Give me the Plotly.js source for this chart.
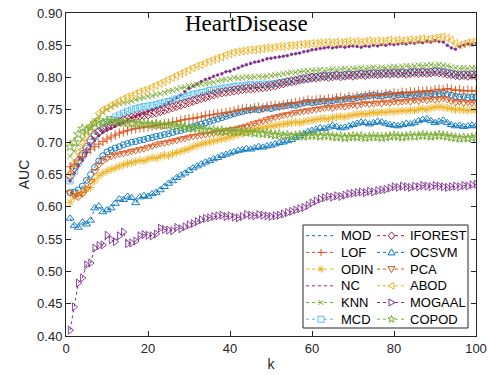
<!DOCTYPE html>
<html>
<head>
<meta charset="utf-8">
<script src="https://cdn.plot.ly/plotly-3.0.1.min.js"></script>
<style>html,body{margin:0;padding:0;background:#fff;}#chart{width:488px;height:375px;}</style>
</head>
<body>
<div id="chart"></div>
<script>
const k = Array.from({length: 100}, (_, i) => i + 1);
const seriesNames = ['MOD','LOF','ODIN','NC','KNN','MCD','IFOREST','OCSVM','PCA','ABOD','MOGAAL','COPOD'];

const MOD = [0.622,0.623,0.626,0.632,0.641,0.650,0.661,0.671,0.679,0.685,
0.688,0.691,0.693,0.696,0.698,0.700,0.701,0.703,0.704,0.706,
0.707,0.709,0.710,0.712,0.713,0.715,0.717,0.718,0.720,0.722,
0.724,0.726,0.728,0.730,0.732,0.734,0.736,0.738,0.740,0.742,
0.744,0.746,0.747,0.749,0.750,0.751,0.750,0.752,0.753,0.752,
0.754,0.755,0.756,0.757,0.758,0.757,0.759,0.761,0.762,0.761,
0.762,0.763,0.764,0.763,0.764,0.766,0.765,0.767,0.768,0.767,
0.769,0.770,0.771,0.772,0.773,0.772,0.771,0.773,0.774,0.772,
0.773,0.774,0.773,0.772,0.773,0.775,0.774,0.776,0.775,0.774,
0.775,0.776,0.774,0.773,0.771,0.770,0.771,0.769,0.770,0.770];

const LOF = [0.662,0.666,0.672,0.678,0.684,0.689,0.693,0.697,0.701,0.705,
0.708,0.711,0.714,0.716,0.718,0.720,0.721,0.722,0.723,0.724,
0.725,0.726,0.727,0.728,0.729,0.731,0.732,0.734,0.735,0.736,
0.737,0.738,0.739,0.741,0.742,0.743,0.744,0.745,0.746,0.747,
0.748,0.750,0.751,0.752,0.751,0.753,0.754,0.753,0.755,0.756,
0.757,0.756,0.758,0.759,0.760,0.761,0.762,0.763,0.765,0.764,
0.765,0.766,0.765,0.767,0.766,0.768,0.769,0.768,0.770,0.769,
0.771,0.770,0.772,0.773,0.772,0.774,0.773,0.775,0.774,0.776,
0.775,0.777,0.776,0.778,0.777,0.779,0.778,0.780,0.779,0.781,
0.782,0.781,0.783,0.782,0.780,0.781,0.779,0.780,0.779,0.780];

const ODIN = [0.607,0.615,0.620,0.622,0.627,0.630,0.640,0.648,0.652,0.655,
0.658,0.660,0.663,0.665,0.667,0.668,0.670,0.672,0.671,0.674,
0.676,0.675,0.678,0.680,0.679,0.682,0.684,0.686,0.688,0.690,
0.693,0.695,0.697,0.699,0.700,0.702,0.703,0.705,0.706,0.708,
0.710,0.712,0.714,0.716,0.718,0.720,0.721,0.722,0.724,0.725,
0.726,0.727,0.728,0.729,0.730,0.731,0.730,0.732,0.733,0.734,
0.735,0.736,0.737,0.736,0.738,0.739,0.740,0.739,0.741,0.742,
0.743,0.744,0.743,0.745,0.746,0.745,0.747,0.746,0.748,0.747,
0.748,0.749,0.748,0.750,0.749,0.751,0.752,0.751,0.753,0.754,
0.755,0.754,0.753,0.752,0.750,0.751,0.750,0.749,0.750,0.750];

const NC = [0.640,0.652,0.663,0.672,0.684,0.695,0.703,0.710,0.716,0.720,
0.722,0.725,0.728,0.731,0.735,0.738,0.740,0.743,0.745,0.748,
0.750,0.753,0.755,0.758,0.761,0.765,0.769,0.773,0.778,0.783,
0.787,0.790,0.794,0.797,0.799,0.802,0.804,0.806,0.809,0.810,
0.813,0.815,0.818,0.820,0.822,0.824,0.825,0.827,0.829,0.830,
0.831,0.832,0.833,0.834,0.836,0.837,0.838,0.840,0.841,0.843,
0.844,0.845,0.846,0.847,0.846,0.847,0.848,0.847,0.848,0.849,
0.848,0.847,0.849,0.848,0.850,0.849,0.851,0.850,0.852,0.851,
0.852,0.853,0.852,0.854,0.853,0.855,0.854,0.856,0.855,0.857,
0.856,0.855,0.850,0.846,0.844,0.848,0.850,0.852,0.851,0.853];

const KNN = [0.678,0.686,0.696,0.705,0.715,0.724,0.733,0.740,0.746,0.751,
0.755,0.758,0.760,0.761,0.762,0.764,0.766,0.768,0.769,0.771,
0.772,0.774,0.775,0.777,0.779,0.780,0.782,0.784,0.785,0.787,
0.788,0.789,0.790,0.791,0.792,0.793,0.795,0.796,0.797,0.798,
0.800,0.799,0.800,0.801,0.800,0.801,0.802,0.801,0.802,0.803,
0.804,0.805,0.806,0.807,0.808,0.808,0.809,0.810,0.810,0.811,
0.811,0.812,0.811,0.812,0.813,0.812,0.813,0.814,0.813,0.814,
0.814,0.815,0.814,0.815,0.816,0.815,0.816,0.815,0.816,0.817,
0.816,0.817,0.818,0.817,0.818,0.819,0.818,0.819,0.820,0.819,
0.820,0.819,0.818,0.816,0.815,0.814,0.815,0.814,0.815,0.815];

const MCD = [0.640,0.655,0.668,0.679,0.690,0.700,0.709,0.717,0.724,0.730,
0.735,0.739,0.742,0.745,0.748,0.750,0.752,0.754,0.755,0.756,
0.757,0.758,0.760,0.762,0.763,0.765,0.767,0.769,0.770,0.772,
0.774,0.775,0.777,0.778,0.780,0.781,0.782,0.783,0.784,0.785,
0.786,0.787,0.787,0.788,0.789,0.788,0.789,0.790,0.789,0.790,
0.791,0.792,0.793,0.794,0.795,0.796,0.797,0.798,0.799,0.800,
0.801,0.802,0.802,0.803,0.803,0.804,0.803,0.804,0.805,0.804,
0.805,0.806,0.805,0.806,0.807,0.806,0.807,0.806,0.807,0.808,
0.807,0.808,0.807,0.808,0.809,0.808,0.809,0.808,0.809,0.810,
0.810,0.809,0.808,0.806,0.805,0.804,0.805,0.804,0.805,0.805];

const IFOREST = [0.648,0.660,0.671,0.681,0.692,0.703,0.712,0.716,0.720,0.723,
0.726,0.729,0.732,0.734,0.736,0.738,0.739,0.741,0.742,0.743,
0.745,0.746,0.748,0.750,0.752,0.754,0.756,0.758,0.760,0.762,
0.764,0.766,0.768,0.770,0.772,0.774,0.776,0.777,0.778,0.779,
0.780,0.781,0.782,0.783,0.783,0.784,0.785,0.785,0.786,0.787,
0.788,0.790,0.791,0.793,0.794,0.795,0.797,0.798,0.799,0.800,
0.800,0.801,0.802,0.801,0.802,0.803,0.802,0.803,0.804,0.803,
0.804,0.805,0.804,0.805,0.806,0.805,0.806,0.807,0.806,0.807,
0.806,0.807,0.806,0.807,0.808,0.807,0.808,0.807,0.808,0.809,
0.808,0.807,0.806,0.805,0.804,0.803,0.804,0.803,0.804,0.803];

const OCSVM = [0.582,0.571,0.568,0.576,0.573,0.579,0.598,0.601,0.592,0.595,
0.598,0.605,0.612,0.611,0.616,0.614,0.606,0.615,0.617,0.616,
0.620,0.622,0.626,0.631,0.636,0.640,0.645,0.649,0.652,0.656,
0.660,0.663,0.666,0.669,0.671,0.674,0.676,0.679,0.681,0.683,
0.685,0.687,0.688,0.690,0.689,0.691,0.693,0.692,0.694,0.695,
0.697,0.699,0.700,0.702,0.704,0.707,0.710,0.713,0.716,0.718,
0.720,0.722,0.721,0.723,0.726,0.724,0.722,0.723,0.725,0.727,
0.729,0.731,0.730,0.728,0.730,0.732,0.731,0.729,0.727,0.726,
0.725,0.727,0.729,0.728,0.730,0.733,0.735,0.736,0.733,0.730,
0.732,0.734,0.730,0.727,0.725,0.726,0.724,0.725,0.726,0.725];

const PCA = [0.622,0.618,0.615,0.620,0.628,0.640,0.655,0.665,0.671,0.675,
0.678,0.680,0.682,0.683,0.684,0.686,0.687,0.689,0.690,0.692,
0.694,0.696,0.698,0.699,0.700,0.702,0.703,0.705,0.706,0.708,
0.709,0.710,0.711,0.712,0.713,0.714,0.715,0.716,0.718,0.719,
0.720,0.722,0.723,0.725,0.727,0.729,0.731,0.733,0.735,0.737,
0.739,0.740,0.742,0.743,0.744,0.746,0.747,0.748,0.749,0.750,
0.751,0.752,0.753,0.754,0.753,0.755,0.756,0.755,0.757,0.758,
0.757,0.759,0.760,0.759,0.760,0.761,0.760,0.762,0.761,0.763,
0.762,0.763,0.764,0.763,0.765,0.764,0.766,0.765,0.767,0.766,
0.767,0.768,0.766,0.764,0.762,0.763,0.761,0.762,0.761,0.762];

const ABOD = [0.652,0.668,0.684,0.698,0.711,0.722,0.732,0.745,0.750,0.753,
0.757,0.760,0.764,0.767,0.770,0.772,0.775,0.778,0.780,0.782,
0.785,0.788,0.791,0.794,0.797,0.800,0.803,0.806,0.809,0.812,
0.815,0.818,0.820,0.823,0.825,0.828,0.830,0.832,0.835,0.837,
0.839,0.840,0.841,0.842,0.843,0.843,0.844,0.845,0.846,0.846,
0.847,0.848,0.848,0.849,0.850,0.850,0.851,0.852,0.852,0.853,
0.853,0.854,0.854,0.855,0.854,0.855,0.854,0.855,0.856,0.855,
0.856,0.855,0.856,0.857,0.856,0.857,0.856,0.857,0.858,0.857,
0.858,0.857,0.858,0.859,0.858,0.859,0.860,0.859,0.860,0.861,
0.862,0.863,0.861,0.858,0.853,0.850,0.852,0.854,0.855,0.856];

const MOGAAL = [0.409,0.445,0.482,0.490,0.510,0.513,0.536,0.540,0.541,0.556,
0.549,0.546,0.555,0.561,0.543,0.544,0.547,0.555,0.557,0.556,
0.555,0.558,0.567,0.565,0.564,0.563,0.568,0.566,0.569,0.572,
0.574,0.577,0.580,0.582,0.583,0.585,0.586,0.587,0.585,0.586,
0.584,0.583,0.585,0.588,0.587,0.586,0.588,0.587,0.586,0.585,
0.586,0.587,0.589,0.591,0.593,0.595,0.597,0.599,0.602,0.606,
0.609,0.612,0.614,0.616,0.615,0.617,0.616,0.618,0.620,0.621,
0.622,0.623,0.622,0.624,0.623,0.625,0.626,0.627,0.629,0.631,
0.630,0.632,0.631,0.630,0.632,0.631,0.633,0.632,0.631,0.633,
0.632,0.631,0.630,0.631,0.632,0.631,0.633,0.632,0.634,0.635];

const COPOD = [0.693,0.700,0.712,0.721,0.718,0.724,0.729,0.731,0.730,0.733,
0.733,0.732,0.731,0.730,0.731,0.729,0.730,0.728,0.729,0.728,
0.727,0.728,0.727,0.726,0.727,0.726,0.724,0.725,0.723,0.722,
0.721,0.722,0.720,0.719,0.718,0.719,0.717,0.718,0.716,0.717,
0.716,0.717,0.716,0.715,0.716,0.714,0.715,0.713,0.714,0.712,
0.711,0.712,0.710,0.711,0.709,0.710,0.711,0.709,0.710,0.711,
0.710,0.709,0.711,0.710,0.709,0.708,0.709,0.707,0.708,0.709,
0.708,0.709,0.707,0.708,0.709,0.708,0.707,0.708,0.709,0.710,
0.709,0.708,0.709,0.710,0.709,0.710,0.711,0.710,0.709,0.710,
0.711,0.710,0.709,0.708,0.707,0.706,0.707,0.706,0.707,0.708];

const seriesValues = [MOD, LOF, ODIN, NC, KNN, MCD, IFOREST, OCSVM, PCA, ABOD, MOGAAL, COPOD];
const xTickVals = [0, 20, 40, 60, 80, 100];
const yTickVals = [0.40,0.45,0.50,0.55,0.60,0.65,0.70,0.75,0.80,0.85,0.90];

const colors = ['#0072BD','#D95319','#EDB120','#7E2F8E','#77AC30','#4DBEEE','#A2142F',
                '#0072BD','#D95319','#EDB120','#7E2F8E','#77AC30'];
const symbols = ['circle-open','cross-thin-open','asterisk-open','circle','x-thin-open','square-open',
                 'diamond-open','triangle-up-open','triangle-down-open','triangle-left-open','triangle-right-open','star-open'];
const sizes = [6,7,7,2.5,6,6,7,7,7,7,7,7];

// legend glyphs (pixel paths around a centre, y up)
const glyphPaths = [
  'M3,0A3,3 0 1,1 -3,0A3,3 0 1,1 3,0Z',
  'M-3.5,0H3.5M0,-3.5V3.5',
  'M-3.5,0H3.5M0,-3.5V3.5M-2.5,-2.5L2.5,2.5M-2.5,2.5L2.5,-2.5',
  'M1.3,0A1.3,1.3 0 1,1 -1.3,0A1.3,1.3 0 1,1 1.3,0Z',
  'M-2.5,-2.5L2.5,2.5M-2.5,2.5L2.5,-2.5',
  'M-3,-3H3V3H-3Z',
  'M0,-3.8L3.3,0L0,3.8L-3.3,0Z',
  'M-3.5,-2.5L3.5,-2.5L0,3.5Z',
  'M-3.5,2.5L3.5,2.5L0,-3.5Z',
  'M2.5,-3.5L2.5,3.5L-3.5,0Z',
  'M-2.5,-3.5L-2.5,3.5L3.5,0Z',
  'M0,3.8L0.9,1.2L3.6,1.2L1.4,-0.5L2.2,-3.1L0,-1.5L-2.2,-3.1L-1.4,-0.5L-3.6,1.2L-0.9,1.2Z'
];

const plotL = 66, plotR = 476, plotT = 13, plotB = 336;
const px2x = p => (p - plotL) / (plotR - plotL);
const px2y = p => (plotB - p) / (plotB - plotT);

const legendBox = {left: 303, right: 468, top: 225, bottom: 328};
const legendCols = [{lineStart: 306, lineEnd: 336, textX: 339}, {lineStart: 377, lineEnd: 406, textX: 408}];
const legendRowTop = 235.7, legendRowGap = 16.7;

const shapes = [{type: 'rect', xref: 'paper', yref: 'paper',
  x0: px2x(legendBox.left), x1: px2x(legendBox.right), y0: px2y(legendBox.bottom), y1: px2y(legendBox.top),
  line: {color: '#262626', width: 1}, fillcolor: '#fff', layer: 'above'}];
const annotations = [{text: 'HeartDisease', xref: 'paper', yref: 'paper', x: 0.441, y: 1.012, xanchor: 'center', yanchor: 'top',
  showarrow: false, font: {family: 'Liberation Serif, Times New Roman, serif', size: 23, color: '#000'}}];

seriesNames.forEach((name, i) => {
  const col = legendCols[Math.floor(i / 6)];
  const row = i % 6;
  const cy = px2y(legendRowTop + row * legendRowGap);
  const cx = (col.lineStart + col.lineEnd) / 2;
  shapes.push({type: 'line', xref: 'paper', yref: 'paper', x0: px2x(col.lineStart), x1: px2x(col.lineEnd), y0: cy, y1: cy,
    line: {color: colors[i], width: 1, dash: 'dot'}, layer: 'above'});
  const filled = (i === 3);
  shapes.push({type: 'path', xref: 'paper', yref: 'paper', xsizemode: 'pixel', ysizemode: 'pixel',
    xanchor: px2x(cx), yanchor: cy, path: glyphPaths[i],
    line: {color: colors[i], width: 1}, fillcolor: filled ? colors[i] : '#fff', layer: 'above'});
  annotations.push({text: name, xref: 'paper', yref: 'paper', x: px2x(col.textX), y: cy, xanchor: 'left', yanchor: 'middle',
    showarrow: false, font: {family: 'Liberation Sans, Arial, sans-serif', size: 13, color: '#000'}});
});

const traces = seriesNames.map((name, i) => ({
  x: k, y: seriesValues[i], name: name, type: 'scatter', mode: 'lines+markers',
  line: {color: colors[i], width: i === 3 ? 0.8 : 1, dash: 'dot'},
  marker: {symbol: symbols[i], size: sizes[i], color: colors[i], line: {color: colors[i], width: 0.9}}
}));

const axisCommon = {
  showline: true, linecolor: '#262626', linewidth: 1, mirror: 'ticks',
  ticks: 'inside', ticklen: 5, tickcolor: '#262626', showgrid: false, zeroline: false,
  tickfont: {family: 'Liberation Sans, Arial, sans-serif', size: 13, color: '#262626'}
};

const layout = {
  width: 488, height: 375,
  margin: {l: plotL, r: 488 - plotR, t: plotT, b: 375 - plotB},
  paper_bgcolor: '#fff', plot_bgcolor: '#fff',
  showlegend: false,
  xaxis: Object.assign({}, axisCommon, {range: [0, 100], tickvals: xTickVals,
    title: {text: 'k', font: {family: 'Liberation Sans, Arial, sans-serif', size: 14, color: '#262626'}, standoff: 4}}),
  yaxis: Object.assign({}, axisCommon, {range: [0.4, 0.9], tickvals: yTickVals, tickformat: '.2f',
    title: {text: 'AUC', font: {family: 'Liberation Sans, Arial, sans-serif', size: 14, color: '#262626'}, standoff: 4}}),
  shapes: shapes,
  annotations: annotations
};

Plotly.newPlot('chart', traces, layout, {displayModeBar: false, staticPlot: true});
</script>
</body>
</html>
